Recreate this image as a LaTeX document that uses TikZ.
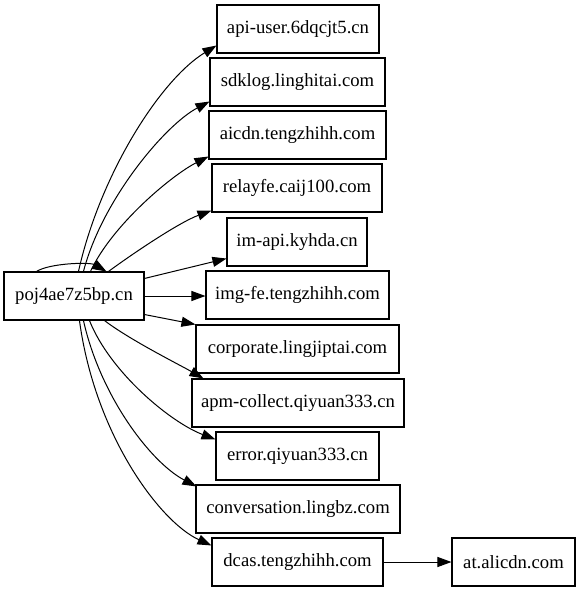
\documentclass[tikz,border=0pt]{standalone}
\usepackage{fontspec}
\setmainfont{Liberation Serif}
\usetikzlibrary{arrows.meta,calc}
\begin{document}
\begin{tikzpicture}[x=0.75pt,y=-0.75pt,
  box/.style={draw,line width=0.8pt,inner sep=0pt,minimum height=36pt,font=\fontsize{14}{16}\selectfont},
  edge/.style={line width=0.75pt,-{Triangle[length=10.5pt,width=7.5pt]}}]
\useasboundingbox (0,0) rectangle (580,592);
\node[box,minimum width=105pt] (poj) at (74,296) {poj4ae7z5bp.cn};
\node[box,minimum width=121.5pt] (api) at (298,29) {api-user.6dqcjt5.cn};
\node[box,minimum width=131.25pt] (sdk) at (297.5,82) {sdklog.linghitai.com};
\node[box,minimum width=132.75pt] (aic) at (297.5,135) {aicdn.tengzhihh.com};
\node[box,minimum width=127.5pt] (rel) at (297,188) {relayfe.caij100.com};
\node[box,minimum width=105pt] (im) at (297,242) {im-api.kyhda.cn};
\node[box,minimum width=137.25pt] (img) at (297.5,295) {img-fe.tengzhihh.com};
\node[box,minimum width=152.25pt] (cor) at (297.5,349) {corporate.lingjiptai.com};
\node[box,minimum width=159pt] (apm) at (298,403) {apm-collect.qiyuan333.cn};
\node[box,minimum width=122.25pt] (err) at (297.5,456) {error.qiyuan333.cn};
\node[box,minimum width=153pt] (con) at (298,509) {conversation.lingbz.com};
\node[box,minimum width=128.25pt] (dca) at (297.5,562) {dcas.tengzhihh.com};
\node[box,minimum width=92.25pt] (at) at (513.5,562) {at.alicdn.com};
% self loop
\draw[edge] ($(poj.north west)+(33,0)$) .. controls (50,263) and (90,262) .. ($(poj.north west)+(103,0)$);
% upward edges
\draw[edge] ($(poj.north west)+(75,0)$) .. controls (100,175) and (160,80) .. ($(api.south west)+(0,-8)$);
\draw[edge] ($(poj.north west)+(80,0)$) .. controls (102,200) and (165,125) .. ($(sdk.south west)+(0,-5)$);
\draw[edge] ($(poj.north west)+(87,0)$) .. controls (112,225) and (172,175) .. ($(aic.south west)+(0,-3)$);
\draw[edge] ($(poj.north west)+(105,0)$) .. controls (135,252) and (180,222) .. ($(rel.south west)+(0,-2)$);
\draw[edge] ($(poj.north east)+(0,7)$) -- ($(im.south west)+(0,-8)$);
\draw[edge] (poj.east) -- (poj.east -| img.west);
\draw[edge] ($(poj.south east)+(0,-6)$) -- (cor.north west);
% downward edges
\draw[edge] ($(poj.south west)+(101,0)$) .. controls (130,340) and (180,365) .. ($(apm.north west)+(12,0)$);
\draw[edge] ($(poj.south west)+(86,0)$) .. controls (110,372) and (170,422) .. ($(err.north west)+(0,8)$);
\draw[edge] ($(poj.south west)+(80,0)$) .. controls (100,395) and (150,462) .. ($(con.north west)+(1,2)$);
\draw[edge] ($(poj.south west)+(76,0)$) .. controls (95,435) and (160,522) .. ($(dca.north west)+(0,8)$);
\draw[edge] (dca) -- (at);
\end{tikzpicture}
\end{document}
